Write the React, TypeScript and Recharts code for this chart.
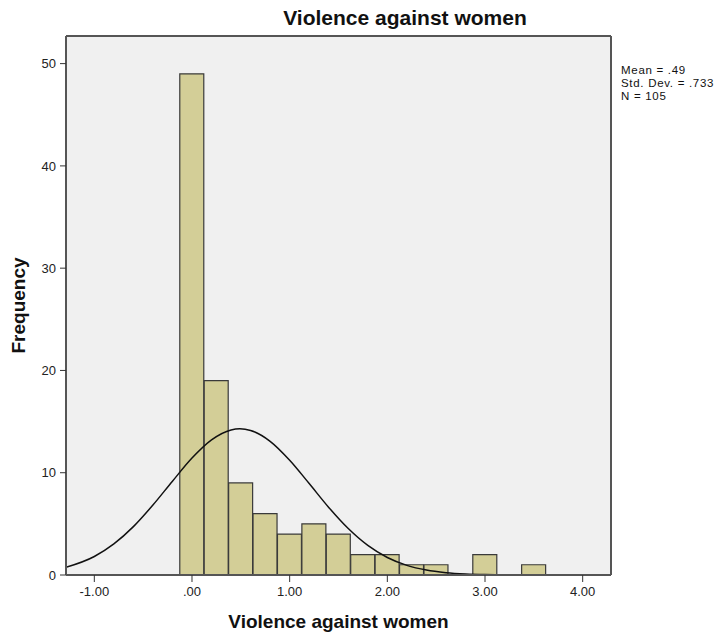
import { ComposedChart, Bar, Line, XAxis, YAxis, CartesianGrid, ReferenceLine } from 'recharts';

// histogram bins (width .25), centres and frequencies
const binCenters = [0, 0.25, 0.5, 0.75, 1, 1.25, 1.5, 1.75, 2, 2.25, 2.5, 3, 3.5];
const binCounts = [49, 19, 9, 6, 4, 5, 4, 2, 2, 1, 1, 2, 1];

// fitted normal curve
const curveX = [-1.29, -1, -0.8, -0.6, -0.4, -0.2, 0, 0.2, 0.4, 0.49, 0.6, 0.8, 1, 1.2, 1.4, 1.6, 1.8, 2, 2.2, 2.4, 2.6, 2.8, 3, 3.3, 3.6, 4, 4.29];
const curveY = [0.75, 1.81, 3.04, 4.73, 6.84, 9.17, 11.43, 13.21, 14.18, 14.29, 14.13, 13.07, 11.22, 8.94, 6.61, 4.54, 2.89, 1.71, 0.94, 0.48, 0.23, 0.1, 0.04, 0.01, 0, 0, 0];

const xTicks = [-1, 0, 1, 2, 3, 4];
const yTicks = [0, 10, 20, 30, 40, 50];
const xDomain = [-1.29, 4.29];
const yDomain = [0, 52.7];

const statLines = ['Mean = .49', 'Std. Dev. = .733', 'N = 105'];

const bins = binCenters.map((x, i) => ({ x, count: binCounts[i] }));
const curve = curveX.map((x, i) => ({ x, y: curveY[i] }));

const font = '"Liberation Sans", Arial, sans-serif';
const fmt = (v: number) => v.toFixed(2).replace(/^(-?)0\./, '$1.');

export default function App() {
  return (
    <div style={{ position: 'absolute', left: 0, top: 0, width: 727, height: 642, background: '#fff', fontFamily: font }}>
      <ComposedChart
        width={727}
        height={642}
        data={bins}
        barCategoryGap={0}
        margin={{ top: 36, right: 116, bottom: 27, left: 0 }}
        style={{ fontFamily: font }}
      >
        <CartesianGrid fill="#f0f0f0" horizontal={false} vertical={false} />
        <XAxis
          dataKey="x"
          type="number"
          domain={xDomain}
          ticks={xTicks}
          interval={0}
          allowDataOverflow
          tickFormatter={fmt}
          tickSize={7}
          tickMargin={5}
          height={40}
          axisLine={{ stroke: '#555', strokeWidth: 2 }}
          tickLine={{ stroke: '#333' }}
          tick={{ fill: '#222', fontSize: 13 }}
          label={{ value: 'Violence against women', position: 'bottom', offset: 0, style: { fontSize: 19, fontWeight: 700, fill: '#111' } }}
        />
        <XAxis xAxisId="curve" dataKey="x" type="number" domain={xDomain} allowDataOverflow hide />
        <YAxis
          type="number"
          domain={yDomain}
          ticks={yTicks}
          interval={0}
          allowDataOverflow
          width={66}
          tickSize={6}
          tickMargin={4}
          axisLine={{ stroke: '#555', strokeWidth: 2 }}
          tickLine={{ stroke: '#333' }}
          tick={{ fill: '#222', fontSize: 13 }}
          label={{ value: 'Frequency', angle: -90, position: 'insideLeft', offset: 18, style: { textAnchor: 'middle', fontSize: 19, fontWeight: 700, fill: '#111' } }}
        />
        <Bar dataKey="count" fill="#d3ce97" stroke="#3a3a3a" strokeWidth={1.2} isAnimationActive={false} />
        <Line
          xAxisId="curve"
          data={curve}
          dataKey="y"
          type="monotone"
          dot={false}
          stroke="#111"
          strokeWidth={1.5}
          isAnimationActive={false}
        />
        <ReferenceLine y={yDomain[1]} stroke="#555" strokeWidth={2} />
        <ReferenceLine x={xDomain[1]} stroke="#555" strokeWidth={2} />
      </ComposedChart>
      <div style={{ position: 'absolute', left: 205, top: 7, width: 400, textAlign: 'center', fontSize: 21, lineHeight: '21px', fontWeight: 700, color: '#111' }}>
        Violence against women
      </div>
      <div style={{ position: 'absolute', left: 621, top: 64, fontSize: 11.5, lineHeight: '13px', letterSpacing: '0.7px', color: '#111' }}>
        {statLines.map((s) => (
          <div key={s}>{s}</div>
        ))}
      </div>
    </div>
  );
}
